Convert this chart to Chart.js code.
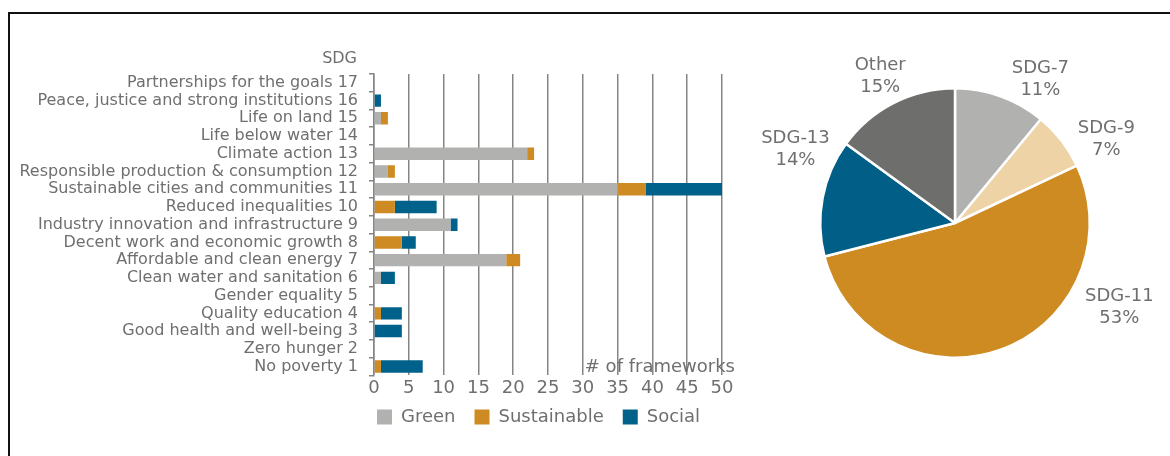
<!DOCTYPE html>
<html>
<head>
<meta charset="utf-8">
<script src="https://cdn.jsdelivr.net/npm/chart.js@4.4.1/dist/chart.umd.min.js"></script>
<style>
    html, body { margin: 0; background: #fff; overflow: hidden; width: 1170px; height: 456px; }
    #frame { position: absolute; left: 8px; top: 12px; width: 1200px; height: 500px;
             border-top: 2px solid #111; border-left: 2px solid #111; }
    #barBox { position: absolute; left: 10px; top: 14px; width: 740px; height: 440px; }
    #pieBox { position: absolute; left: 740px; top: 14px; width: 430px; height: 440px; }
</style>
</head>
<body>
<div id="frame"></div>
<div id="barBox"><canvas id="sdgBars"></canvas></div>
<div id="pieBox"><canvas id="sdgPie"></canvas></div>
<script>
var sdgLabels = [
    "Partnerships for the goals 17",
    "Peace, justice and strong institutions 16",
    "Life on land 15",
    "Life below water 14",
    "Climate action 13",
    "Responsible production & consumption 12",
    "Sustainable cities and communities 11",
    "Reduced inequalities 10",
    "Industry innovation and infrastructure 9",
    "Decent work and economic growth 8",
    "Affordable and clean energy 7",
    "Clean water and sanitation 6",
    "Gender equality 5",
    "Quality education 4",
    "Good health and well-being 3",
    "Zero hunger 2",
    "No poverty 1"
];
var greenCounts       = [0, 0, 1, 0, 22, 2, 35, 0, 11, 0, 19, 1, 0, 0, 0, 0, 0];
var sustainableCounts = [0, 0, 1, 0, 1, 1, 4, 3, 0, 4, 2, 0, 0, 1, 0, 0, 1];
var socialCounts      = [0, 1, 0, 0, 0, 0, 11, 6, 1, 2, 0, 2, 0, 3, 4, 0, 6];
var xTicks = [0, 5, 10, 15, 20, 25, 30, 35, 40, 45, 50];

var pieLabels = ["SDG-7", "SDG-9", "SDG-11", "SDG-13", "Other"];
var pieShares = [11, 7, 53, 14, 15];

var GREY_TXT = "#6f6f6f";
var FONT = "'DejaVu Sans', Verdana, sans-serif";
Chart.defaults.font.family = FONT;
Chart.defaults.color = GREY_TXT;

// extra texts on the bar chart: "SDG" above the labels, axis note inside plot
var barNotes = {
    id: "barNotes",
    afterLayout: function (chart) {
        // legend sits under the plot, starting near the axis, a bit higher
        var lg = chart.legend;
        var w = lg.right - lg.left;
        lg.left = chart.chartArea.left - 16;
        lg.right = lg.left + w;
        lg.top -= 12;
        lg.bottom -= 12;
    },
    afterDraw: function (chart) {
        var c = chart.ctx, a = chart.chartArea;
        c.save();
        c.fillStyle = GREY_TXT;
        c.font = "16px " + FONT;
        c.textAlign = "right";
        c.textBaseline = "middle";
        c.fillText("SDG", a.left - 17, a.top - 15);
        c.font = "18px " + FONT;
        c.fillText("# of frameworks", a.right + 13, a.bottom - 8);
        c.restore();
    }
};

new Chart(document.getElementById("sdgBars").getContext("2d"), {
    type: "bar",
    data: {
        labels: sdgLabels,
        datasets: [
            { label: "Green", data: greenCounts, backgroundColor: "#b1b1b0" },
            { label: "Sustainable", data: sustainableCounts, backgroundColor: "#cf8b23" },
            { label: "Social", data: socialCounts, backgroundColor: "#00628a" }
        ]
    },
    options: {
        indexAxis: "y",
        responsive: true,
        maintainAspectRatio: false,
        animation: false,
        barPercentage: 0.7,
        categoryPercentage: 1,
        layout: { padding: { top: 60, right: 28, bottom: 6, left: 0 } },
        scales: {
            x: {
                stacked: true,
                min: 0,
                max: 50,
                afterBuildTicks: function (s) {
                    s.ticks = xTicks.map(function (v) { return { value: v }; });
                },
                grid: { color: "#858585", lineWidth: 1.5, drawTicks: false },
                border: { display: false },
                ticks: { font: { size: 18 }, padding: 2, color: GREY_TXT }
            },
            y: {
                stacked: true,
                afterFit: function (s) { s.width = 364; },
                grid: { drawOnChartArea: false, tickLength: 5, color: "#858585", lineWidth: 1.5 },
                border: { color: "#858585", width: 1.5 },
                ticks: { autoSkip: false, font: { size: 16 }, padding: 11, color: GREY_TXT }
            }
        },
        plugins: {
            legend: {
                position: "bottom",
                align: "start",
                labels: { boxWidth: 15, boxHeight: 15, padding: 19, font: { size: 18 }, color: GREY_TXT }
            },
            tooltip: { enabled: false }
        }
    },
    plugins: [barNotes]
});

// outside labels for the pie, nudged round like the original
var labelNudge = [11, 9, -43, 14, 0];
var labelGap = [32, 38, 50, 41, 30];
var pieOutLabels = {
    id: "pieOutLabels",
    afterDraw: function (chart) {
        var c = chart.ctx;
        var arcs = chart.getDatasetMeta(0).data;
        c.save();
        c.fillStyle = GREY_TXT;
        c.font = "18px " + FONT;
        c.textAlign = "center";
        c.textBaseline = "middle";
        arcs.forEach(function (arc, i) {
            var mid = (arc.startAngle + arc.endAngle) / 2 + labelNudge[i] * Math.PI / 180;
            var r = arc.outerRadius + labelGap[i];
            var x = arc.x + Math.cos(mid) * r;
            var y = arc.y + Math.sin(mid) * r;
            c.fillText(pieLabels[i], x, y - 11);
            c.fillText(pieShares[i] + "%", x, y + 11);
        });
        c.restore();
    }
};

new Chart(document.getElementById("sdgPie").getContext("2d"), {
    type: "pie",
    data: {
        labels: pieLabels,
        datasets: [{
            data: pieShares,
            backgroundColor: ["#b1b1b0", "#edd3a6", "#cd8b22", "#005e87", "#6e6e6c"],
            borderColor: "#ffffff",
            borderWidth: 2.5
        }]
    },
    options: {
        responsive: true,
        maintainAspectRatio: false,
        animation: false,
        layout: { padding: { top: 73, right: 79, bottom: 95, left: 79 } },
        plugins: {
            legend: { display: false },
            tooltip: { enabled: false }
        }
    },
    plugins: [pieOutLabels]
});
</script>
</body>
</html>
